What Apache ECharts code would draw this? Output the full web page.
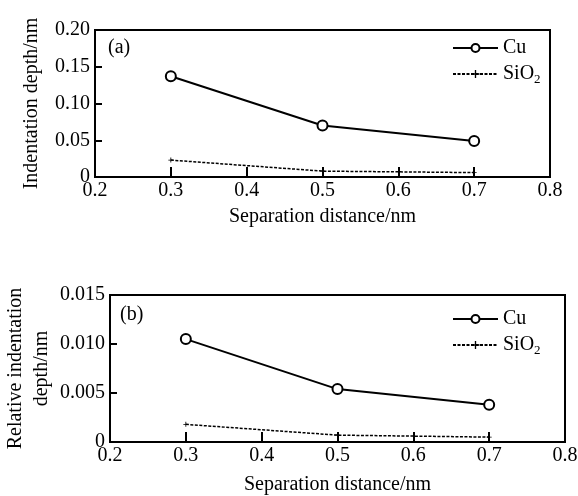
<!DOCTYPE html>
<html><head><meta charset="utf-8">
<script src="https://cdn.jsdelivr.net/npm/echarts@6/dist/echarts.min.js"></script>
<style>html,body{margin:0;padding:0;background:#fff}#c{width:578px;height:496px}</style>
</head><body><div id="c"></div>
<script>
const separation = [0.3, 0.5, 0.7];
const cuDepth = [0.137, 0.070, 0.049];
const sio2Depth = [0.023, 0.008, 0.006];
const cuRelative = [0.0105, 0.0054, 0.0038];
const sio2Relative = [0.0018, 0.0007, 0.0005];
const xTicks = [0.2, 0.3, 0.4, 0.5, 0.6, 0.7, 0.8];

const FONT = 'Liberation Serif';
const chart = echarts.init(document.getElementById('c'), null, {renderer: 'canvas'});
const pairs = (xs, ys) => xs.map((x, i) => [x, ys[i]]);
const plus = 'path://M4,0h1.6v4h4v1.6h-4v4h-1.6v-4h-4v-1.6h4z';

function xAxisCfg(gi, gap) {
  return {
    gridIndex: gi, type: 'value', min: xTicks[0], max: xTicks[xTicks.length - 1], interval: 0.1,
    name: 'Separation distance/nm', nameLocation: 'middle', nameGap: gap,
    nameTextStyle: {fontFamily: FONT, fontSize: 20, color: '#000'},
    axisLine: {lineStyle: {color: '#000', width: 2}},
    axisTick: {inside: true, length: 10, lineStyle: {color: '#000', width: 2}},
    axisLabel: {fontFamily: FONT, fontSize: 20, color: '#000', margin: 4,
      formatter: v => v.toFixed(1)},
    splitLine: {show: false}
  };
}
function yAxisCfg(gi, max, interval, dec, name, gap) {
  return {
    gridIndex: gi, type: 'value', min: 0, max: max, interval: interval,
    name: name, nameLocation: 'middle', nameGap: gap, nameMoveOverlap: false,
    nameTextStyle: {fontFamily: FONT, fontSize: 20, color: '#000', lineHeight: 26},
    axisLine: {lineStyle: {color: '#000', width: 2}},
    axisTick: {inside: true, length: 7, lineStyle: {color: '#000', width: 2}},
    axisLabel: {fontFamily: FONT, fontSize: 20, color: '#000', margin: 5,
      formatter: v => v === 0 ? '0' : v.toFixed(dec)},
    splitLine: {show: false}
  };
}
function cuSeries(gi, data) {
  return {name: 'Cu', type: 'line', xAxisIndex: gi, yAxisIndex: gi, data: data,
    symbol: 'emptyCircle', symbolSize: 10,
    lineStyle: {color: '#000', width: 2},
    itemStyle: {color: '#000', borderColor: '#000', borderWidth: 2}};
}
function sioSeries(gi, data) {
  return {name: 'SiO2', type: 'line', xAxisIndex: gi, yAxisIndex: gi, data: data,
    symbol: plus, symbolSize: 5,
    lineStyle: {color: '#000', width: 1.5, type: [3, 1.5]},
    itemStyle: {color: '#000'}};
}
function legendCfg(top, left) {
  return {
    orient: 'vertical', left: left, top: top, itemWidth: 45, itemHeight: 10, itemGap: 6,
    data: ['Cu', 'SiO2'],
    textStyle: {fontFamily: FONT, fontSize: 20, color: '#000',
      rich: {s: {fontFamily: FONT, fontSize: 13, color: '#000', padding: [12, 0, 0, 0]},
             n: {fontFamily: FONT, fontSize: 20, color: '#000'}}},
    formatter: n => n === 'SiO2' ? '{n|SiO}{s|2}' : '{n|Cu}'
  };
}

chart.setOption({
  animation: false,
  backgroundColor: '#fff',
  title: [
    {text: '(a)', left: 103, top: 33, textStyle: {fontFamily: FONT, fontSize: 20, fontWeight: 'normal', color: '#000'}},
    {text: '(b)', left: 115, top: 300, textStyle: {fontFamily: FONT, fontSize: 20, fontWeight: 'normal', color: '#000'}}
  ],
  grid: [
    {left: 95, top: 30, width: 455, height: 147, show: true, borderColor: '#000', borderWidth: 2,
     containLabel: false, outerBoundsMode: 'none'},
    {left: 110, top: 295, width: 455, height: 147, show: true, borderColor: '#000', borderWidth: 2,
     containLabel: false, outerBoundsMode: 'none'}
  ],
  legend: [legendCfg(33, 447), legendCfg(304, 447)],
  xAxis: [xAxisCfg(0, 30), xAxisCfg(1, 33)],
  yAxis: [
    yAxisCfg(0, 0.20, 0.05, 2, 'Indentation depth/nm', 50),
    yAxisCfg(1, 0.015, 0.005, 3, 'Relative indentation\ndepth/nm', 55)
  ],
  series: [
    cuSeries(0, pairs(separation, cuDepth)),
    sioSeries(0, pairs(separation, sio2Depth)),
    cuSeries(1, pairs(separation, cuRelative)),
    sioSeries(1, pairs(separation, sio2Relative))
  ]
});
</script></body></html>
